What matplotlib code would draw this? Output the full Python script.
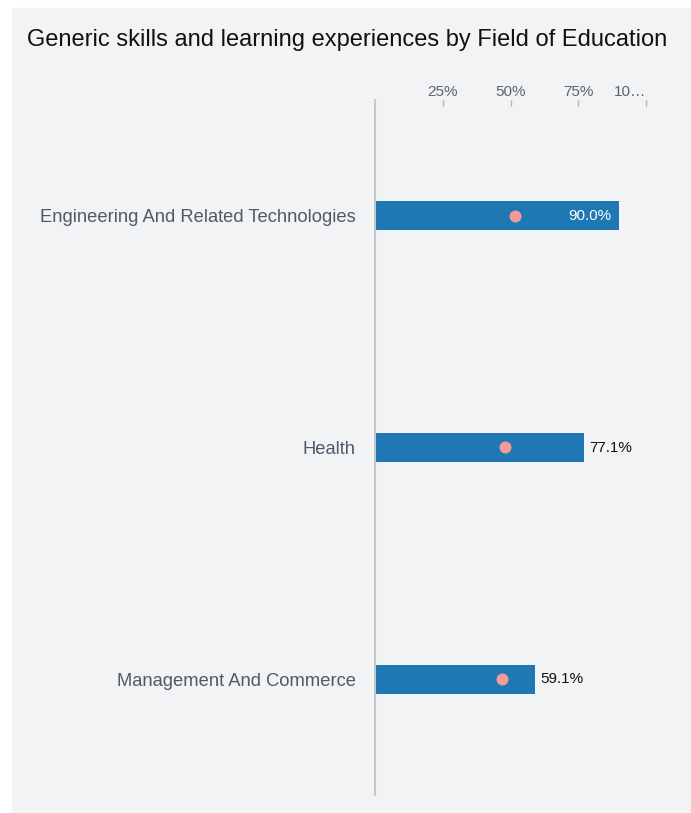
import matplotlib.pyplot as plt
from matplotlib.patches import Rectangle

# data
categories = ["Engineering And Related Technologies", "Health", "Management And Commerce"]
values = [90.0, 77.1, 59.1]
benchmark = [51.7, 48.0, 47.0]
tick_pos = [25, 50, 75, 100]
tick_labels = ["25%", "50%", "75%", "10\u2026"]

plt.rcParams['font.family'] = ['Liberation Sans', 'DejaVu Sans']

W, H = 691, 813
fig = plt.figure(figsize=(W / 100, H / 100), dpi=100, facecolor='white')
fig.patches.append(Rectangle((12 / W, 0), 1 - 12 / W, 1 - 8 / H,
                             transform=fig.transFigure, color='#f2f3f5', zorder=-10))

ax = fig.add_axes([375 / W, 1 - 795 / H, 271 / W, 695 / H])
ax.set_facecolor('none')
ax.set_zorder(5)

y = list(range(len(categories)))
ax.barh(y, values, height=0.125, color='#1f77b4', zorder=2)
ax.scatter(benchmark, y, s=75, color='#f4999a', zorder=3, linewidths=0)

for yi, v in zip(y, values):
    if v >= 85:
        ax.text(v - 2.7, yi, f"{v:.1f}%", ha='right', va='center',
                color='white', fontsize=11, zorder=4)
    else:
        ax.text(v + 1.8, yi, f"{v:.1f}%", ha='left', va='center',
                color='#111111', fontsize=11, zorder=4)

ax.set_xlim(0, 100)
ax.set_ylim(len(categories) - 0.5, -0.5)

ax.set_yticks(y)
ax.set_yticklabels(categories, fontsize=13.2, color='#4d5b68')
ax.tick_params(axis='y', length=0, pad=14)

ax.xaxis.tick_top()
ax.set_xticks(tick_pos)
ax.set_xticklabels(tick_labels, fontsize=11, color='#5a6570')
ax.tick_params(axis='x', direction='in', length=4, width=1, color='#b0b4b8', pad=0.5)
ax.get_xticklabels()[-1].set_ha('right')

for s in ['top', 'right', 'bottom']:
    ax.spines[s].set_visible(False)
ax.spines['left'].set_color('#c8c8c8')
ax.spines['left'].set_linewidth(1.5)

fig.text(347 / W, 1 - 40 / H, "Generic skills and learning experiences by Field of Education",
         ha='center', va='center', fontsize=17, color='#111111')

fig.savefig('out.png', dpi=100)
